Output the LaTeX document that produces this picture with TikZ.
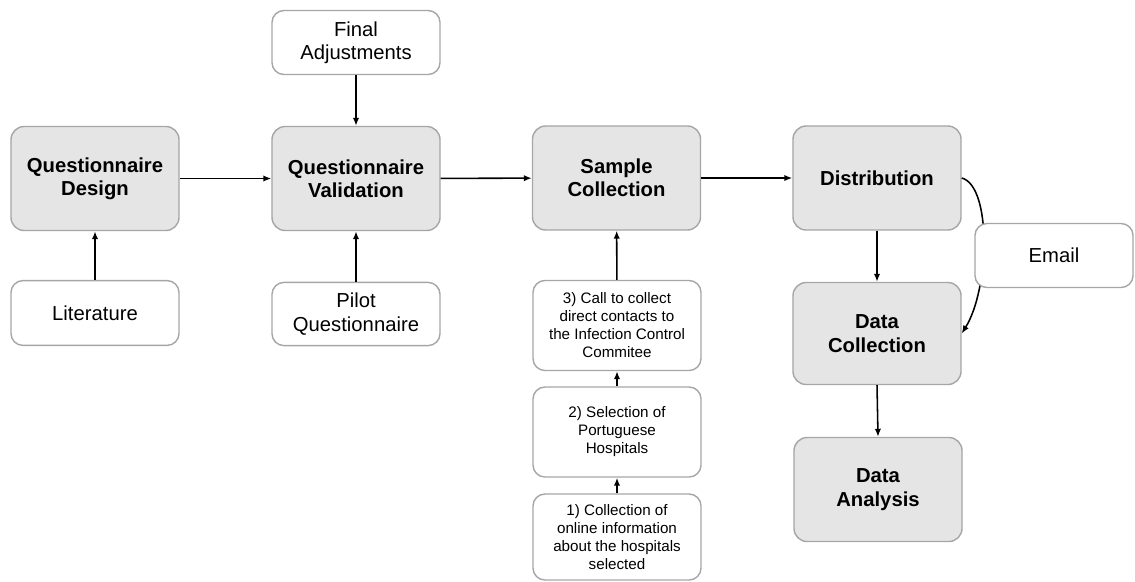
\documentclass[tikz,border=0pt]{standalone}
\usepackage{fontspec}
\setmainfont{Liberation Sans}
\usetikzlibrary{arrows.meta}

\tikzset{
  mainbox/.style={draw=gray!70, line width=1pt, fill=gray!20, rounded corners=0.33cm,
    minimum width=4.2cm, minimum height=2.6cm, align=center, inner sep=2pt,
    font=\bfseries\fontsize{14.4}{16.6}\selectfont},
  sidebox/.style={draw=gray!70, line width=1pt, fill=white, rounded corners=0.3cm,
    minimum width=4.2cm, minimum height=1.6cm, align=center, inner sep=2pt,
    font=\fontsize{14.4}{16.6}\selectfont},
  stepbox/.style={sidebox, minimum height=2.25cm, font=\fontsize{10.8}{12.8}\selectfont},
  arr/.style={-{Latex[length=2mm,width=1.6mm]}, line width=1.1pt},
}

\begin{document}
\begin{tikzpicture}[x=0.025cm, y=-0.025cm]
        \useasboundingbox (0,0) rectangle (1135,581);

        % --- MAIN ROW ---
        \node[mainbox] (qdesign) at (95,178.5) {Questionnaire\\Design};
        \node[mainbox] (qvalid) at (356,178.5) {Questionnaire\\Validation};
        \node[mainbox] (sample) at (616.5,178) {Sample\\Collection};
        \node[mainbox] (distrib) at (877,178) {Distribution};
        \node[mainbox, minimum height=2.55cm] (dcollect) at (877,333.5) {Data\\Collection};
        \node[mainbox] (danalysis) at (878,489.5) {Data\\Analysis};

        % --- INPUTS ---
        \node[sidebox, minimum height=1.62cm] (lit) at (95,313) {Literature};
        \node[sidebox, minimum height=1.6cm] (final) at (356,42.5) {Final\\Adjustments};
        \node[sidebox, minimum height=1.58cm] (pilot) at (356,314) {Pilot\\Questionnaire};

        % --- SAMPLE STEPS ---
        \node[stepbox] (step3) at (617,325.5) {3) Call to collect\\direct contacts to\\the Infection Control\\Commitee};
        \node[stepbox] (step2) at (617,432) {2) Selection of\\Portuguese\\Hospitals};
        \node[stepbox, minimum height=2.15cm] (step1) at (617,537) {1) Collection of\\online information\\about the hospitals\\selected};

        % --- CONNECTORS ---
        \draw[arr] (qdesign) -- (qvalid);
        \draw[arr] (qvalid) -- (sample);
        \draw[arr] (sample) -- (distrib);
        \draw[arr] (lit) -- (qdesign);
        \draw[arr] (final) -- (qvalid);
        \draw[arr] (pilot) -- (qvalid);
        \draw[arr] (step3) -- (sample);
        \draw[arr] (step2) -- (step3);
        \draw[arr] (step1) -- (step2);
        \draw[arr] (distrib) -- (dcollect);
        \draw[arr] (dcollect.south) -- (danalysis.north);
        \draw[arr] (distrib.east) .. controls +(30,8) and +(28,-45) .. (dcollect.east);

        % email sits over the curve
        \node[sidebox, minimum width=3.95cm, minimum height=1.6cm] (email) at (1054,255.5) {Email};
\end{tikzpicture}
\end{document}
